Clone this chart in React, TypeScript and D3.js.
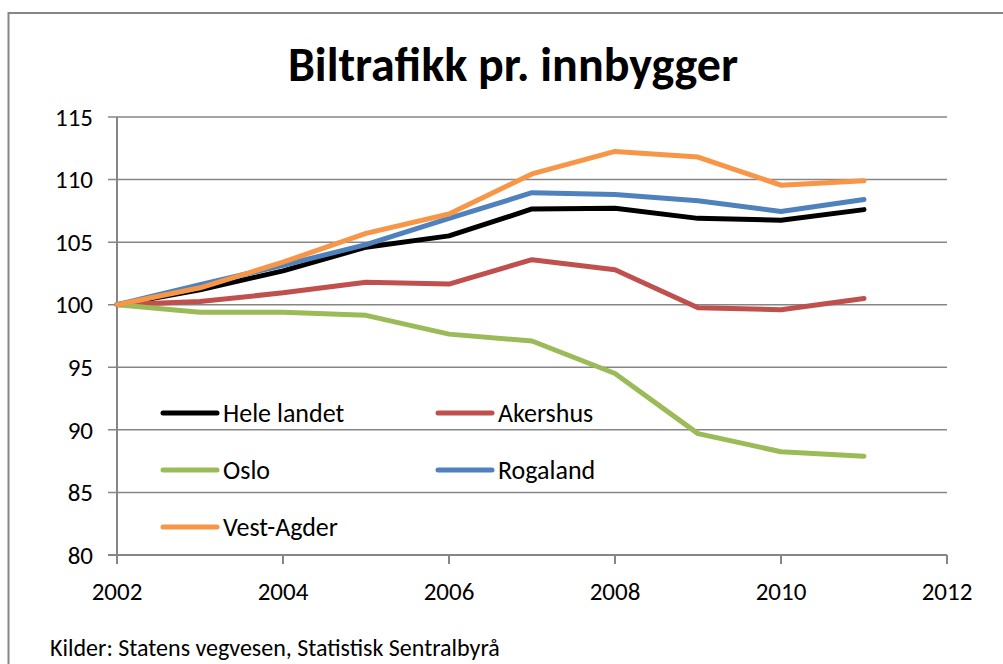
import React from 'react';
import { scaleLinear, line } from 'd3';

// data
const years = [2002, 2003, 2004, 2005, 2006, 2007, 2008, 2009, 2010, 2011];
const heleLandet = [100, 101.2, 102.7, 104.6, 105.5, 107.65, 107.7, 106.9, 106.75, 107.6];
const akershus = [100, 100.25, 100.95, 101.8, 101.65, 103.6, 102.8, 99.75, 99.6, 100.5];
const oslo = [100, 99.4, 99.4, 99.15, 97.65, 97.1, 94.5, 89.7, 88.25, 87.9];
const rogaland = [100, 101.6, 103.15, 104.8, 106.9, 108.95, 108.8, 108.3, 107.45, 108.4];
const vestAgder = [100, 101.35, 103.4, 105.7, 107.25, 110.45, 112.25, 111.8, 109.55, 109.9];

const seriesNames = ['Hele landet', 'Akershus', 'Oslo', 'Rogaland', 'Vest-Agder'];
const seriesValues = [heleLandet, akershus, oslo, rogaland, vestAgder];
const colors = ['#000000', '#C0504D', '#9BBB59', '#4F81BD', '#F79646'];

const yTicks = [80, 85, 90, 95, 100, 105, 110, 115];
const xTicks = [2002, 2004, 2006, 2008, 2010, 2012];

const title = 'Biltrafikk pr. innbygger';
const source = 'Kilder: Statens vegvesen, Statistisk Sentralbyrå';

const font = 'Carlito, Lato, "Open Sans", sans-serif';
const grid = '#868686';

const App = () => {
	const width = 1003;
	const height = 664;
	const plot = { left: 117, right: 947, top: 117, bottom: 555 };

	const xScale = scaleLinear().domain([2002, 2012]).range([plot.left, plot.right]);
	const yScale = scaleLinear().domain([80, 115]).range([plot.bottom, plot.top]);

	const lineFn = line<number>()
		.x((d, i) => xScale(years[i]))
		.y((d) => yScale(d));

	// legend: two columns, three rows
	const legendX = [163, 438];
	const legendY = [413, 470, 527];

	return (
		<svg width={width} height={height}
			style={{ position: 'absolute', left: 0, top: 0, background: '#fff' }}
			fontFamily={font}>
			<rect x={0} y={0} width={width} height={height} fill="#fff" />
			<rect x={8.5} y={13} width={width + 20} height={height + 20}
				fill="none" stroke={grid} strokeWidth={2} />

			<text x={513} y={81} textAnchor="middle" fontSize={48} fontWeight="bold"
				fill="#000">{title}</text>

			{yTicks.map((t) => (
				<g key={t}>
					<line x1={108} x2={plot.right} y1={yScale(t)} y2={yScale(t)}
						stroke={grid} strokeWidth={t === 80 ? 2 : 1.5} />
					<text x={93} y={yScale(t)} dy="0.35em" textAnchor="end" fontSize={25}
						fill="#000">{t}</text>
				</g>
			))}
			<line x1={plot.left} x2={plot.left} y1={plot.top} y2={plot.bottom + 9}
				stroke={grid} strokeWidth={2} />
			{xTicks.map((t) => (
				<g key={t}>
					<line x1={xScale(t)} x2={xScale(t)} y1={plot.bottom} y2={plot.bottom + 9}
						stroke={grid} strokeWidth={2} />
					<text x={xScale(t)} y={591} dy="0.35em" textAnchor="middle" fontSize={25}
						fill="#000">{t}</text>
				</g>
			))}

			{seriesValues.map((vals, i) => (
				<path key={seriesNames[i]} d={lineFn(vals) || ''} fill="none"
					stroke={colors[i]} strokeWidth={5} strokeLinejoin="round" strokeLinecap="round" />
			))}

			{seriesNames.map((name, i) => {
				const lx = legendX[i % 2];
				const ly = legendY[Math.floor(i / 2)];
				return (
					<g key={name}>
						<line x1={lx} x2={lx + 54} y1={ly} y2={ly} stroke={colors[i]}
							strokeWidth={5} strokeLinecap="round" />
						<text x={lx + 60} y={ly} dy="0.35em" fontSize={26} fill="#000">{name}</text>
					</g>
				);
			})}

			<text x={50} y={648} dy="0.35em" fontSize={24} fill="#000">{source}</text>
		</svg>
	);
};

export default App;
